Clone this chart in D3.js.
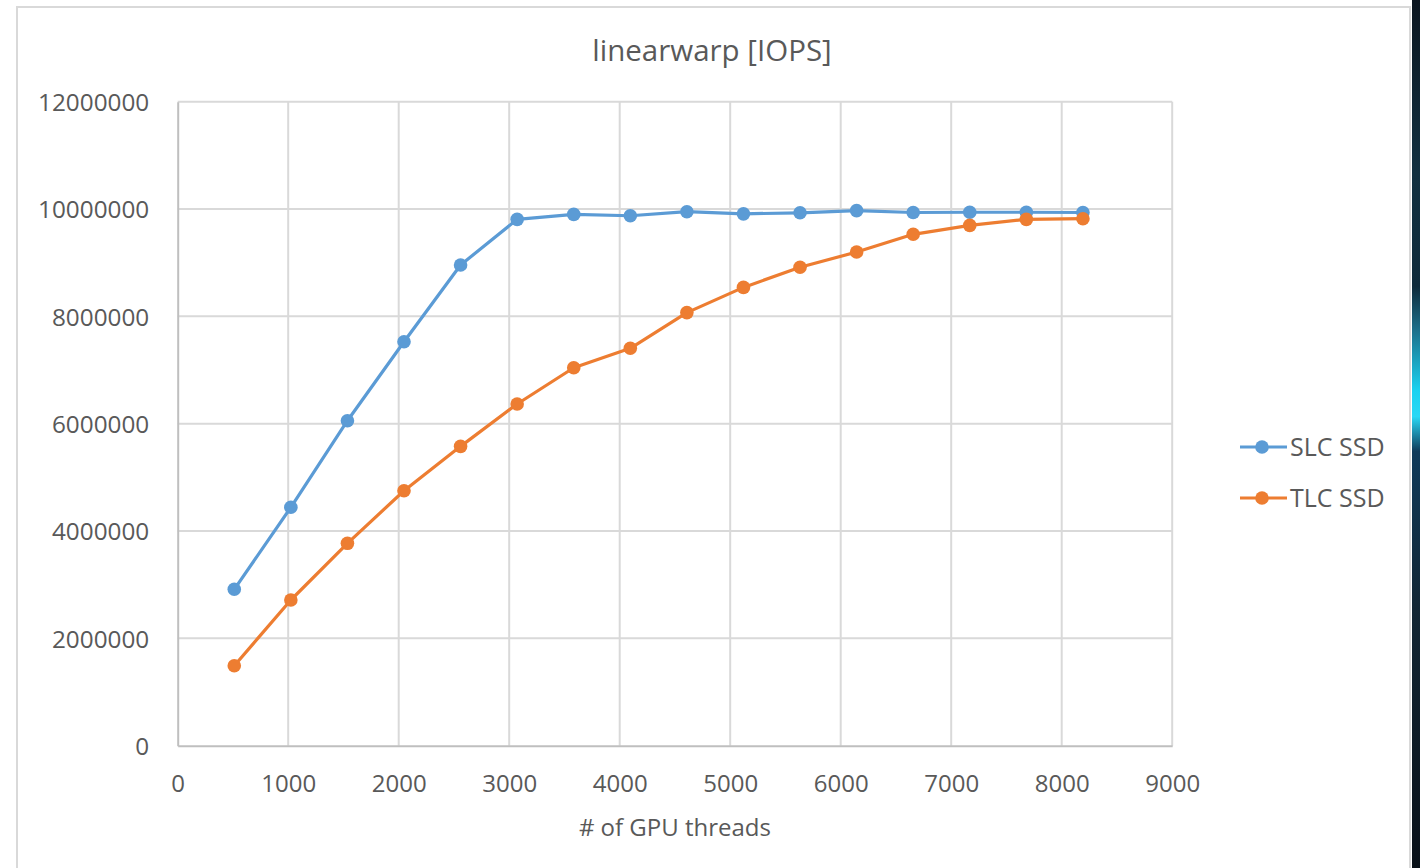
<!DOCTYPE html>
<html>
<head>
<meta charset="utf-8">
<script src="https://cdn.jsdelivr.net/npm/d3@7"></script>
<style>
  html, body { margin: 0; padding: 0; background: #ffffff; }
  svg { display: block; }
  text { font-family: "Open Sans", "Liberation Sans", sans-serif; fill: #595959; }
</style>
</head>
<body>
<svg id="chart" width="1420" height="868"></svg>
<script>
// GPU thread counts (x) and measured IOPS for the two SSD types
const threads = [512, 1024, 1536, 2048, 2560, 3072, 3584, 4096, 4608, 5120, 5632, 6144, 6656, 7168, 7680, 8192];
const slcIops = [2914000, 4442000, 6056000, 7528000, 8957000, 9808000, 9900000, 9875000, 9950000, 9910000, 9930000, 9970000, 9935000, 9940000, 9940000, 9935000];
const tlcIops = [1490000, 2715000, 3771000, 4751000, 5578000, 6367000, 7043000, 7405000, 8070000, 8540000, 8914000, 9199000, 9529000, 9696000, 9808000, 9820000];
const seriesNames = ["SLC SSD", "TLC SSD"];
const seriesColors = ["#5b9bd5", "#ed7d31"];
const xTicks = [0, 1000, 2000, 3000, 4000, 5000, 6000, 7000, 8000, 9000];
const yTicks = [0, 2000000, 4000000, 6000000, 8000000, 10000000, 12000000];
const chartTitle = "linearwarp [IOPS]";
const xTitle = "# of GPU threads";

const W = 1420, H = 868;
const plot = { left: 177.7, right: 1172.2, top: 101.7, bottom: 745.7 };

const svg = d3.select("#chart");

// dark backdrop strip at the right edge
const defs = svg.append("defs");
const grad = defs.append("linearGradient").attr("id", "edge").attr("x1", 0).attr("y1", 0).attr("x2", 0).attr("y2", 1);
[[0, "#0b1620"], [0.2, "#123040"], [0.33, "#0e2a3a"], [0.38, "#1b6f8a"], [0.45, "#19d2f0"], [0.48, "#2ad8f5"], [0.52, "#0f3a5a"], [0.7, "#122634"], [1, "#091018"]]
  .forEach(([o, c]) => grad.append("stop").attr("offset", o).attr("stop-color", c));
svg.append("rect").attr("x", 1412).attr("y", 0).attr("width", 8).attr("height", H).attr("fill", "url(#edge)");

// chart frame
svg.append("rect")
  .attr("x", 17).attr("y", 7).attr("width", 1393).attr("height", 880)
  .attr("fill", "#ffffff").attr("stroke", "#d9d9d9").attr("stroke-width", 2);

const x = d3.scaleLinear().domain([0, 9000]).range([plot.left, plot.right]);
const y = d3.scaleLinear().domain([0, 12000000]).range([plot.bottom, plot.top]);

// gridlines
const grid = svg.append("g").attr("stroke", "#d9d9d9").attr("stroke-width", 2);
grid.selectAll(".gx").data(xTicks.filter(d => d > 0)).join("line")
  .attr("x1", d => x(d)).attr("x2", d => x(d)).attr("y1", plot.top).attr("y2", plot.bottom);
grid.selectAll(".gy").data(yTicks.filter(d => d > 0)).join("line")
  .attr("x1", plot.left).attr("x2", plot.right).attr("y1", d => y(d)).attr("y2", d => y(d));

// axes
const xAxis = svg.append("g").attr("transform", `translate(0,${plot.bottom})`)
  .call(d3.axisBottom(x).tickValues(xTicks).tickSize(0).tickFormat(d3.format("d")));
xAxis.select(".domain").attr("stroke", "#bfbfbf").attr("stroke-width", 2);
xAxis.selectAll("text").attr("y", 46).attr("dy", 0).attr("font-size", 24).attr("fill", "#595959");

const yAxis = svg.append("g").attr("transform", `translate(${plot.left},0)`)
  .call(d3.axisLeft(y).tickValues(yTicks).tickSize(0).tickFormat(d3.format("d")));
yAxis.select(".domain").attr("stroke", "#bfbfbf").attr("stroke-width", 2);
yAxis.selectAll("text").attr("x", -28.5).attr("dy", "0.36em").attr("font-size", 24.3).attr("fill", "#595959");
svg.selectAll(".tick line").remove();

// series
const line = d3.line().x(d => x(d[0])).y(d => y(d[1]));
[slcIops, tlcIops].forEach((vals, i) => {
  const pts = threads.map((t, j) => [t, vals[j]]);
  const g = svg.append("g");
  g.append("path").datum(pts).attr("d", line)
    .attr("fill", "none").attr("stroke", seriesColors[i]).attr("stroke-width", 3.2)
    .attr("stroke-linejoin", "round").attr("stroke-linecap", "round");
  g.selectAll("circle").data(pts).join("circle")
    .attr("cx", d => x(d[0])).attr("cy", d => y(d[1])).attr("r", 6.8)
    .attr("fill", seriesColors[i]);
});

// titles
svg.append("text").attr("x", 712).attr("y", 61).attr("text-anchor", "middle")
  .attr("font-size", 29.5).text(chartTitle);
svg.append("text").attr("x", (plot.left + plot.right) / 2).attr("y", 836).attr("text-anchor", "middle")
  .attr("font-size", 24).text(xTitle);

// legend
const legend = svg.append("g");
seriesNames.forEach((name, i) => {
  const ly = 447 + i * 51;
  legend.append("line").attr("x1", 1240).attr("x2", 1287).attr("y1", ly).attr("y2", ly)
    .attr("stroke", seriesColors[i]).attr("stroke-width", 3.2);
  legend.append("circle").attr("cx", 1262).attr("cy", ly).attr("r", 6.8).attr("fill", seriesColors[i]);
  legend.append("text").attr("x", 1290).attr("y", ly).attr("dy", "0.36em")
    .attr("font-size", 25).text(name);
});
</script>
</body>
</html>
